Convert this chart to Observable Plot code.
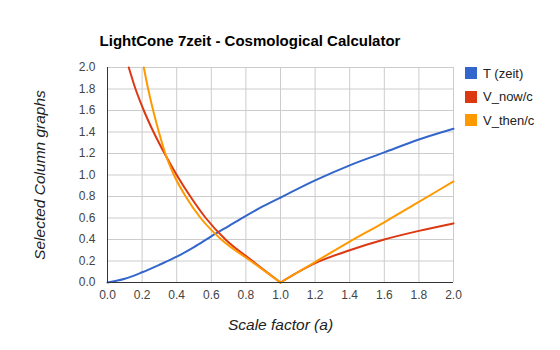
<!DOCTYPE html>
<html>
<head>
<meta charset="utf-8">
<script src="https://cdn.jsdelivr.net/npm/d3@7"></script>
<script src="https://cdn.jsdelivr.net/npm/@observablehq/plot@0.6"></script>
<style>
  html, body { margin: 0; padding: 0; background: #fff; }
  #wrap { position: relative; width: 560px; height: 350px; font-family: Arial, "Liberation Sans", sans-serif; }
  #title { position: absolute; left: 0; width: 500px; top: 32px; text-align: center; font-weight: bold; font-size: 15px; color: #000; }
  #legend { position: absolute; left: 465px; top: 67px; font-size: 13px; color: #222; }
  .item { display: flex; align-items: center; height: 12px; margin-bottom: 11.5px; }
  .sw { width: 12px; height: 12px; margin-right: 6px; }
  svg { position: absolute; left: 0; top: 0; }
</style>
</head>
<body>
<div id="wrap">
  <div id="title">LightCone 7zeit - Cosmological Calculator</div>
  <div id="legend"></div>
</div>
<script>
const seriesNames = ["T (zeit)", "V_now/c", "V_then/c"];
const seriesColors = ["#3366cc", "#dc3912", "#ff9900"];

const tA = [0, 0.1, 0.2, 0.3, 0.4, 0.5, 0.6, 0.7, 0.8, 0.9, 1.0, 1.2, 1.4, 1.6, 1.8, 2.0];
const tV = [0, 0.035, 0.095, 0.165, 0.24, 0.33, 0.43, 0.525, 0.62, 0.71, 0.79, 0.95, 1.09, 1.21, 1.33, 1.43];

const nowA = [0.123, 0.162, 0.21, 0.266, 0.33, 0.4, 0.479, 0.568, 0.682, 0.838, 1.0, 1.2, 1.4, 1.6, 1.8, 2.0];
const nowV = [2.0, 1.8, 1.6, 1.4, 1.2, 1.0, 0.8, 0.6, 0.4, 0.2, 0, 0.18, 0.3, 0.4, 0.48, 0.55];

const thenA = [0.21, 0.235, 0.264, 0.297, 0.334, 0.384, 0.452, 0.538, 0.658, 0.828, 1.0, 1.2, 1.4, 1.6, 1.8, 2.0];
const thenV = [2.0, 1.8, 1.6, 1.4, 1.2, 1.0, 0.8, 0.6, 0.4, 0.2, 0, 0.19, 0.38, 0.56, 0.75, 0.94];

const xTicks = [0, 0.2, 0.4, 0.6, 0.8, 1.0, 1.2, 1.4, 1.6, 1.8, 2.0];
const yTicks = [0, 0.2, 0.4, 0.6, 0.8, 1.0, 1.2, 1.4, 1.6, 1.8, 2.0];

const xLabel = "Scale factor (a)";
const yLabel = "Selected Column graphs";

// split each series at a = 1 (the V-shaped minimum) so each piece is monotone
function rows(as, vs, s) {
  const out = [];
  as.forEach((a, i) => {
    if (a <= 1) out.push({a, v: vs[i], s, seg: s + "|1"});
    if (a >= 1) out.push({a, v: vs[i], s, seg: s + "|2"});
  });
  return out;
}
const data = [
  ...rows(tA, tV, seriesNames[0]),
  ...rows(nowA, nowV, seriesNames[1]),
  ...rows(thenA, thenV, seriesNames[2])
];

const chart = Plot.plot({
  width: 560,
  height: 350,
  marginLeft: 107,
  marginRight: 107,
  marginTop: 67,
  marginBottom: 68,
  style: { fontFamily: "Arial, 'Liberation Sans', sans-serif", fontSize: "12px", color: "#444", background: "transparent" },
  x: { domain: [0, 2], ticks: xTicks },
  y: { domain: [0, 2], ticks: yTicks },
  color: { domain: seriesNames, range: seriesColors },
  marks: [
    Plot.gridX(xTicks, { stroke: "#cccccc", strokeOpacity: 1, strokeWidth: 1 }),
    Plot.gridY(yTicks, { stroke: "#cccccc", strokeOpacity: 1, strokeWidth: 1 }),
    Plot.axisX(xTicks, { tickSize: 0, tickPadding: 8, tickFormat: d3.format(".1f"), label: null, fill: "#444", fontSize: 12 }),
    Plot.axisY(yTicks, { tickSize: 0, tickPadding: 12, tickFormat: d3.format(".1f"), label: null, fill: "#444", fontSize: 12 }),
    Plot.line(data, { x: "a", y: "v", z: "seg", stroke: "s", strokeWidth: 2, curve: "monotone-x" }),
    Plot.ruleX([0], { stroke: "#333", strokeWidth: 1 }),
    Plot.ruleY([0], { stroke: "#333", strokeWidth: 1 }),
    Plot.text([yLabel], { text: d => d, frameAnchor: "left", dx: -67, rotate: -90, textAnchor: "middle", fontStyle: "italic", fontSize: 15.5, fill: "#222" }),
    Plot.text([xLabel], { text: d => d, frameAnchor: "bottom", dy: 47, fontStyle: "italic", fontSize: 15.5, fill: "#222" })
  ]
});

const wrap = document.getElementById("wrap");
wrap.insertBefore(chart, wrap.firstChild);

const legend = document.getElementById("legend");
seriesNames.forEach((n, i) => {
  const it = document.createElement("div");
  it.className = "item";
  const sw = document.createElement("div");
  sw.className = "sw";
  sw.style.background = seriesColors[i];
  const t = document.createElement("span");
  t.textContent = n;
  it.appendChild(sw);
  it.appendChild(t);
  legend.appendChild(it);
});
</script>
</body>
</html>
